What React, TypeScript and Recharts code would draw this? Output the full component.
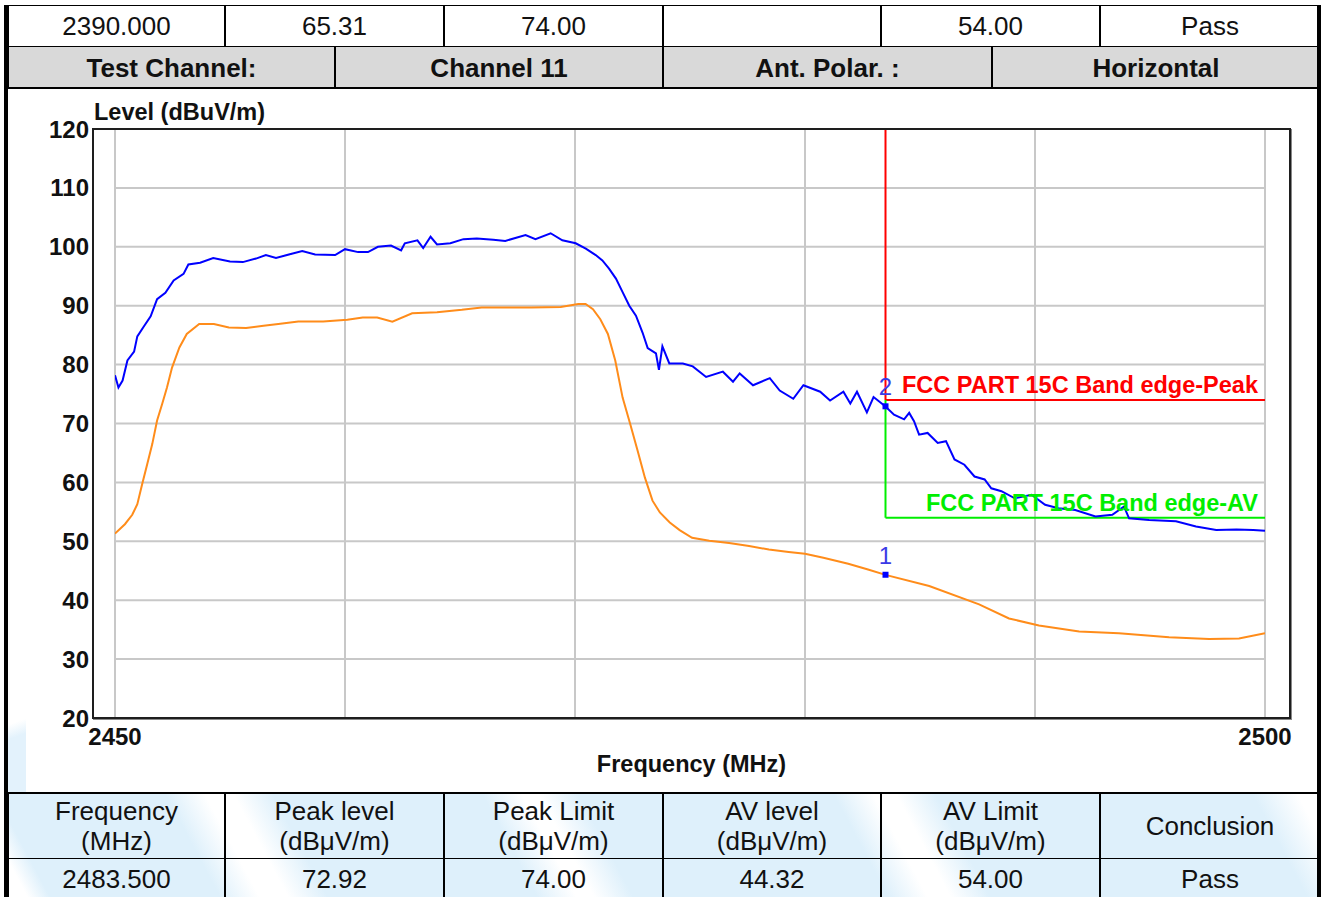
import React from 'react';
import {
  LineChart,
  Line,
  XAxis,
  YAxis,
  ReferenceLine,
  ReferenceDot,
} from 'recharts';

// ---------- data ----------
const peakFreq = [
  2450.0, 2450.15, 2450.33, 2450.54, 2450.83, 2450.97, 2451.26, 2451.55, 2451.83, 2452.19,
  2452.55, 2452.98, 2453.19, 2453.7, 2454.27, 2455.0, 2455.56, 2456.13, 2456.56, 2457.0,
  2457.56, 2458.14, 2458.7, 2459.57, 2460.0, 2460.57, 2461.0, 2461.43, 2462.0, 2462.44,
  2462.6, 2463.15, 2463.4, 2463.72, 2464.0, 2464.58, 2465.15, 2465.73, 2466.45, 2466.97,
  2467.85, 2468.28, 2468.94, 2469.45, 2470.03, 2470.47, 2470.9, 2471.19, 2471.48, 2471.78,
  2472.07, 2472.36, 2472.65, 2472.94, 2473.16, 2473.52, 2473.65, 2473.8, 2474.1, 2474.69,
  2475.12, 2475.7, 2476.43, 2476.87, 2477.16, 2477.74, 2478.47, 2478.9, 2479.49, 2479.93,
  2480.66, 2481.09, 2481.67, 2481.97, 2482.26, 2482.69, 2482.98, 2483.5, 2483.87, 2484.31,
  2484.53, 2484.74, 2484.96, 2485.33, 2485.77, 2486.13, 2486.5, 2486.93, 2487.37, 2487.81,
  2488.1, 2488.54, 2489.12, 2489.85, 2490.44, 2491.02, 2491.75, 2492.63, 2493.36, 2493.87,
  2494.09, 2494.96, 2496.13, 2497.0, 2497.88, 2498.76, 2499.49, 2500.0,
];
const peakLevel = [
  78.2, 76.1, 77.3, 80.7, 82.2, 84.8, 86.5, 88.2, 91.1, 92.2,
  94.3, 95.4, 97.0, 97.3, 98.1, 97.5, 97.4, 98.0, 98.6, 98.1,
  98.7, 99.3, 98.7, 98.6, 99.6, 99.1, 99.1, 100.0, 100.2, 99.4,
  100.6, 101.1, 99.8, 101.7, 100.4, 100.6, 101.3, 101.4, 101.2, 101.0,
  102.0, 101.3, 102.3, 101.1, 100.6, 99.7, 98.6, 97.7, 96.3, 94.6,
  92.3, 90.0, 88.3, 85.4, 82.8, 81.9, 79.1, 83.1, 80.2, 80.2,
  79.7, 77.9, 78.8, 77.1, 78.5, 76.5, 77.7, 75.6, 74.2, 76.5,
  75.4, 73.9, 75.4, 73.4, 75.4, 71.9, 74.5, 72.9, 71.5, 70.7,
  71.8, 70.4, 68.1, 68.4, 66.7, 67.0, 63.9, 63.0, 61.0, 60.5,
  59.0, 58.5, 57.3, 57.9, 56.2, 55.6, 55.3, 54.2, 54.5, 55.9,
  53.9, 53.6, 53.4, 52.5, 51.9, 52.0, 51.9, 51.8,
];

const avgFreq = [
  2450.0, 2450.43, 2450.75, 2450.97, 2451.18, 2451.4, 2451.62, 2451.83, 2452.05, 2452.26,
  2452.48, 2452.8, 2453.12, 2453.66, 2454.3, 2454.95, 2455.7, 2456.46, 2457.1, 2457.97,
  2459.05, 2460.1, 2460.77, 2461.4, 2462.06, 2462.92, 2464.0, 2465.08, 2465.94, 2466.8,
  2468.1, 2469.38, 2470.14, 2470.46, 2470.78, 2471.1, 2471.43, 2471.75, 2472.07, 2472.4,
  2472.72, 2473.04, 2473.37, 2473.69, 2474.12, 2474.55, 2475.09, 2475.84, 2476.7, 2477.57,
  2478.43, 2479.29, 2480.0, 2480.8, 2481.88, 2482.74, 2483.5, 2485.4, 2487.57, 2488.87,
  2490.17, 2491.92, 2493.65, 2495.83, 2497.57, 2498.87, 2500.0,
];
const avgLevel = [
  51.3, 52.9, 54.5, 56.3, 59.7, 63.1, 66.5, 70.5, 73.3, 76.1,
  79.5, 82.9, 85.2, 86.9, 86.9, 86.3, 86.2, 86.6, 86.9, 87.3,
  87.3, 87.6, 88.0, 88.0, 87.3, 88.7, 88.9, 89.3, 89.7, 89.7,
  89.7, 89.8, 90.3, 90.3, 89.4, 87.7, 85.2, 80.7, 74.4, 69.9,
  65.4, 60.8, 56.9, 54.9, 53.2, 51.9, 50.6, 50.1, 49.7, 49.2,
  48.6, 48.2, 47.9, 47.2, 46.2, 45.2, 44.3, 42.4, 39.3, 36.9,
  35.7, 34.7, 34.4, 33.7, 33.4, 33.5, 34.4,
];

const yTicks = [20, 30, 40, 50, 60, 70, 80, 90, 100, 110, 120];
const xTicks = [2450, 2500];
const gridFreqs = [2450, 2460, 2470, 2480, 2490, 2500];
const gridLevels = [20, 30, 40, 50, 60, 70, 80, 90, 100, 110, 120];

const markerFreq = 2483.5;
const markerPeak = 72.92;
const markerAvg = 44.32;
const peakLimit = 74;
const avgLimit = 54;
const freqMin = 2450;
const freqMax = 2500;
const levelMin = 20;
const levelMax = 120;

const topRow1 = ['2390.000', '65.31', '74.00', '', '54.00', 'Pass'];
const topRow2 = ['Test Channel:', 'Channel 11', 'Ant. Polar. :', 'Horizontal'];
const headerRow = [
  ['Frequency', '(MHz)'],
  ['Peak level', '(dBμV/m)'],
  ['Peak Limit', '(dBμV/m)'],
  ['AV level', '(dBμV/m)'],
  ['AV Limit', '(dBμV/m)'],
  ['Conclusion'],
];
const resultRow = ['2483.500', '72.92', '74.00', '44.32', '54.00', 'Pass'];

// ---------- layout ----------
const FONT = '"Liberation Sans", Arial, Helvetica, sans-serif';
const cols6 = [8, 225, 444, 663, 881, 1100, 1320];
const cols4 = [8, 335, 663, 992, 1320];

const peakData = peakFreq.map((f, i) => ({ f, v: peakLevel[i] }));
const avgData = avgFreq.map((f, i) => ({ f, v: avgLevel[i] }));

const BLUE = '#0000ff';
const ORANGE = '#ff8c1a';

function Row({
  cols,
  top,
  height,
  cells,
  bold,
  bg,
}: {
  cols: number[];
  top: number;
  height: number;
  cells: (string | string[])[];
  bold?: boolean;
  bg?: string;
}) {
  return (
    <>
      {cells.map((c, i) => {
        const lines = Array.isArray(c) ? c : [c];
        return (
          <div
            key={i}
            style={{
              position: 'absolute',
              left: cols[i],
              top,
              width: cols[i + 1] - cols[i],
              height,
              boxSizing: 'border-box',
              border: '1px solid #000',
              background: bg,
              display: 'flex',
              flexDirection: 'column',
              alignItems: 'center',
              justifyContent: 'center',
              fontFamily: FONT,
              fontSize: 26,
              lineHeight: '30px',
              fontWeight: bold ? 700 : 400,
              color: '#111',
            }}
          >
            {lines.map((l, j) => (
              <div key={j}>{l}</div>
            ))}
          </div>
        );
      })}
    </>
  );
}

const renderLevelLabel = (props: any) => {
  const vb = props.viewBox || {};
  return (
    <text
      x={vb.x + vb.width + 1}
      y={vb.y - 9}
      fontFamily={FONT}
      fontSize={23.5}
      fontWeight={700}
      fill="#111"
    >
      Level (dBuV/m)
    </text>
  );
};

const renderFreqLabel = (props: any) => {
  const vb = props.viewBox || {};
  return (
    <text
      x={vb.x + vb.width / 2}
      y={vb.y + 54}
      textAnchor="middle"
      fontFamily={FONT}
      fontSize={23.5}
      fontWeight={700}
      fill="#111"
    >
      Frequency (MHz)
    </text>
  );
};

const limitLabel = (text: string, color: string) => (props: any) => {
  const vb = props.viewBox || {};
  return (
    <text
      x={vb.x + vb.width - 7}
      y={vb.y - 7}
      textAnchor="end"
      fontFamily={FONT}
      fontSize={23.5}
      fontWeight={700}
      fill={color}
    >
      {text}
    </text>
  );
};

const squareShape = (props: any) => (
  <rect x={props.cx - 3} y={props.cy - 3} width={6} height={6} fill={BLUE} />
);

export default function App() {
  return (
    <div
      style={{
        position: 'relative',
        width: 1326,
        height: 897,
        background: '#fff',
        overflow: 'hidden',
      }}
    >
      <style>{`body{margin:0;}`}</style>

      {/* top table */}
      <Row cols={cols6} top={5} height={42} cells={topRow1} />
      <Row cols={cols4} top={46} height={43} cells={topRow2} bold bg="#d9d9d9" />

      {/* faint watermark on the left of the chart area */}
      <div
        style={{
          position: 'absolute',
          left: 8,
          top: 700,
          width: 18,
          height: 93,
          background: 'linear-gradient(160deg, #ffffff 0%, #ffffff 25%, #e3f2fc 40%, #e3f2fc 100%)',
        }}
      />

      {/* bottom table watermark background */}
      <div
        style={{
          position: 'absolute',
          left: 8,
          top: 793,
          width: 1312,
          height: 110,
          background:
            'linear-gradient(62deg, #ffffff 0px, #ffffff 20px, #def0fb 40px, #def0fb 190px, #ffffff 225px, #ffffff 250px, #def0fb 285px, #def0fb 470px, #ffffff 505px, #ffffff 520px, #def0fb 555px, #def0fb 780px, #ffffff 815px, #ffffff 835px, #def0fb 870px, #def0fb 1150px, #ffffff 1190px, #ffffff 1210px, #def0fb 1250px)',
        }}
      />
      <Row cols={cols6} top={793} height={66} cells={headerRow} />
      <Row cols={cols6} top={858} height={42} cells={resultRow} />

      {/* outer frame lines */}
      <div style={{ position: 'absolute', left: 4, top: 5, width: 4, height: 892, background: '#000' }} />
      <div style={{ position: 'absolute', left: 1317, top: 5, width: 4, height: 892, background: '#000' }} />
      <div style={{ position: 'absolute', left: 4, top: 87, width: 1317, height: 2, background: '#000' }} />
      <div style={{ position: 'absolute', left: 4, top: 792, width: 1317, height: 2, background: '#000' }} />

      <div style={{ position: 'absolute', left: 0, top: 88, width: 1326, height: 707 }}>
        <LineChart
          width={1326}
          height={707}
          margin={{ top: 41, right: 36, left: 0, bottom: 0 }}
        >
          <XAxis
            dataKey="f"
            type="number"
            domain={[freqMin, freqMax]}
            ticks={xTicks}
            padding={{ left: 22, right: 25 }}
            axisLine={false}
            tickLine={false}
            tickSize={0}
            tickMargin={10}
            height={77}
            allowDataOverflow
            tick={{ fill: '#111', fontSize: 24, fontWeight: 700, fontFamily: FONT }}
            label={renderFreqLabel}
          />
          <YAxis
            dataKey="v"
            type="number"
            domain={[levelMin, levelMax]}
            ticks={yTicks}
            interval={0}
            axisLine={false}
            tickLine={false}
            tickSize={0}
            tickMargin={4}
            width={93}
            allowDataOverflow
            tick={{ fill: '#111', fontSize: 24, fontWeight: 700, fontFamily: FONT }}
            label={renderLevelLabel}
          />

          {gridFreqs.map((f) => (
            <ReferenceLine key={'gx' + f} x={f} stroke="#c8c8c8" strokeWidth={2} />
          ))}
          {gridLevels.map((v) => (
            <ReferenceLine
              key={'gy' + v}
              segment={[
                { x: freqMin, y: v },
                { x: freqMax, y: v },
              ]}
              stroke="#c8c8c8"
              strokeWidth={2}
            />
          ))}

          {/* limit lines */}
          <ReferenceLine
            segment={[
              { x: markerFreq, y: levelMax },
              { x: markerFreq, y: peakLimit },
            ]}
            stroke="#ff0000"
            strokeWidth={2}
          />
          <ReferenceLine
            segment={[
              { x: markerFreq, y: peakLimit },
              { x: freqMax, y: peakLimit },
            ]}
            stroke="#ff0000"
            strokeWidth={2}
            label={limitLabel('FCC PART 15C Band edge-Peak', '#ff0000')}
          />
          <ReferenceLine
            segment={[
              { x: markerFreq, y: peakLimit },
              { x: markerFreq, y: avgLimit },
            ]}
            stroke="#00ee00"
            strokeWidth={2}
          />
          <ReferenceLine
            segment={[
              { x: markerFreq, y: avgLimit },
              { x: freqMax, y: avgLimit },
            ]}
            stroke="#00ee00"
            strokeWidth={2}
          />

          <Line
            data={avgData}
            dataKey="v"
            type="linear"
            stroke={ORANGE}
            strokeWidth={2}
            dot={false}
            isAnimationActive={false}
          />
          <Line
            data={peakData}
            dataKey="v"
            type="linear"
            stroke={BLUE}
            strokeWidth={2}
            dot={false}
            isAnimationActive={false}
          />

          {/* AV label drawn after the trace, like the reference */}
          <ReferenceLine
            segment={[
              { x: markerFreq, y: avgLimit },
              { x: freqMax, y: avgLimit },
            ]}
            stroke="none"
            label={limitLabel('FCC PART 15C Band edge-AV', '#00ee00')}
          />

          <ReferenceDot
            x={markerFreq}
            y={markerAvg}
            shape={squareShape}
            label={{ value: '1', position: 'top', offset: 1, fill: '#3a3ae6', fontSize: 24, fontFamily: FONT }}
          />
          <ReferenceDot
            x={markerFreq}
            y={markerPeak}
            shape={squareShape}
            label={{ value: '2', position: 'top', offset: 1, fill: '#3a3ae6', fontSize: 24, fontFamily: FONT }}
          />
        </LineChart>
      </div>

      {/* plot frame */}
      <div
        style={{
          position: 'absolute',
          left: 92,
          top: 128,
          width: 1199,
          height: 591,
          boxSizing: 'border-box',
          border: '2px solid #1e1e1e',
          boxShadow: '1px 1px 0 #888',
          pointerEvents: 'none',
        }}
      />
    </div>
  );
}
